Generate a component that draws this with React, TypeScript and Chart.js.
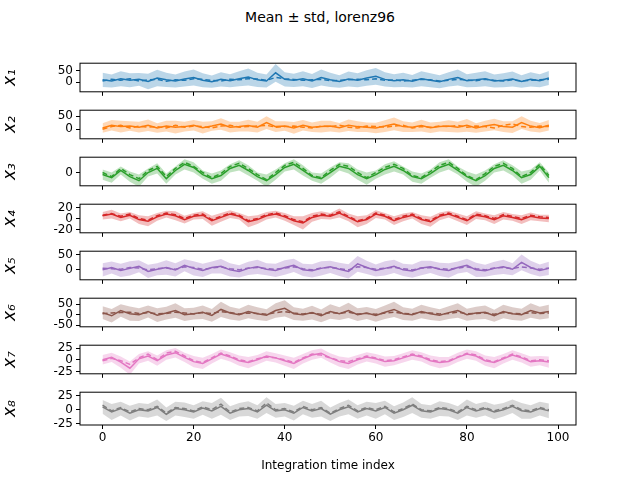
import { Chart, registerables } from "chart.js";
import { useEffect, useRef } from "react";

Chart.register(...registerables);

// 50 samples per series, at every second time index
const timeIndex = Array.from({ length: 50 }, (_, i) => i * 2);
const xTicks = [0, 20, 40, 60, 80, 100];

const mean1 = [10,5,15,8,12,3,18,10,5,14,20,8,2,12,6,15,22,10,5,40,12,8,15,5,20,10,3,14,8,18,25,12,6,10,4,15,8,2,12,20,6,10,15,5,8,14,3,12,6,18];
const truth1 = [5,12,8,15,5,10,12,4,10,8,15,12,8,5,12,10,15,14,8,20,15,12,8,10,12,6,8,10,12,10,15,8,10,5,8,12,10,5,8,12,10,6,12,8,5,10,6,8,10,12];
const std1 = [30,28,32,30,27,33,35,30,28,32,34,30,26,30,28,32,36,30,28,38,30,28,32,30,34,30,27,32,30,33,36,30,28,30,27,32,30,28,30,34,28,30,32,28,30,32,27,30,28,30];

const mean2 = [5,15,10,12,8,15,5,12,8,10,15,6,12,20,8,10,14,8,25,10,12,5,15,8,10,12,6,15,10,8,5,12,20,10,8,14,6,10,12,8,15,5,12,18,10,8,25,12,6,15];
const truth2 = [0,10,15,5,12,8,10,5,15,8,12,10,5,12,15,8,10,12,15,8,10,12,8,5,12,10,15,8,5,12,10,8,12,15,5,10,8,12,10,15,8,12,10,5,15,20,10,8,12,10];
const std2 = [18,20,22,18,20,22,18,20,24,18,20,22,18,22,20,18,22,20,24,20,18,22,20,18,22,20,18,22,20,18,20,22,24,20,18,22,20,18,22,20,24,18,20,22,20,22,24,20,18,20];

const mean3 = [-2,-5,2,-4,-8,0,4,-6,2,8,5,-2,-6,-3,4,7,2,-4,-8,-2,5,8,2,-4,-6,0,6,4,-2,-6,-2,3,6,2,-4,-6,-1,5,8,2,-4,-8,-3,4,7,2,-5,-2,6,-5];
const truth3 = [0,-4,4,-2,-6,2,6,-4,4,10,6,0,-5,-1,6,9,4,-2,-7,0,7,10,4,-3,-5,2,8,6,0,-5,0,5,8,4,-3,-5,1,7,10,4,-3,-7,-1,6,9,4,-4,0,8,-3];
const std3 = [5,5,4,5,6,4,5,5,4,5,5,4,5,5,4,5,5,4,6,5,4,5,5,4,5,5,4,5,5,6,4,5,5,4,5,5,4,5,5,4,5,6,5,4,5,5,6,5,4,5];

const mean4 = [5,8,2,6,-2,-5,3,8,5,-2,4,6,-4,2,8,4,-6,-2,5,8,3,-4,-8,2,6,4,10,2,-6,-2,8,4,-4,2,6,-2,-6,4,8,2,-4,6,3,-2,5,2,-2,4,1,0];
const truth4 = [6,9,4,8,0,-3,5,10,7,0,6,8,-2,4,10,6,-4,0,7,10,5,-2,-6,4,8,6,12,4,-4,0,10,6,-2,4,8,0,-4,6,10,4,-2,8,5,0,7,4,0,6,3,2];
const std4 = [7,8,7,6,8,9,7,6,8,7,6,7,9,8,7,6,10,8,7,6,7,8,12,8,7,6,8,7,10,8,7,6,8,7,6,8,9,7,6,7,8,7,6,8,7,6,8,7,6,7];

const mean5 = [0,8,-2,5,12,-5,2,8,0,15,5,-2,8,12,0,-5,5,10,2,-2,8,15,0,-3,5,10,2,-5,20,8,-2,5,12,0,-4,6,10,2,-2,8,15,0,-3,5,10,2,25,8,-2,5];
const truth5 = [5,4,2,8,6,0,4,6,2,10,8,2,6,10,4,0,6,8,4,2,6,10,4,0,6,8,4,0,10,8,2,6,8,4,0,6,8,4,2,6,10,4,0,6,8,4,10,6,2,6];
const std5 = [22,20,22,24,20,22,20,24,22,20,24,22,20,24,22,20,22,24,20,22,24,22,20,22,24,20,22,24,26,22,20,24,22,20,22,24,20,22,24,20,22,24,20,22,24,20,26,22,20,22];

const mean6 = [10,-5,20,5,0,15,-2,8,20,0,5,12,-3,25,8,0,15,5,-2,20,30,5,0,10,-5,15,5,20,0,8,-3,12,25,5,0,15,5,-2,10,20,0,8,12,-5,15,5,0,20,8,15];
const truth6 = [5,8,10,12,6,10,4,6,12,8,4,10,6,15,10,4,8,6,2,10,15,8,4,8,2,10,6,12,4,6,2,8,12,6,4,10,8,4,6,12,4,6,8,2,10,6,4,10,6,8];
const std6 = [30,32,30,34,30,28,32,30,34,30,28,32,30,36,30,28,32,30,28,34,38,30,28,32,30,34,30,36,30,28,30,32,36,30,28,32,30,28,30,34,28,30,32,28,32,30,28,34,30,32];

const mean7 = [0,5,-5,-18,2,8,-2,10,15,5,-4,-8,2,12,6,-2,-6,0,8,4,-2,-8,2,10,14,4,-4,-8,0,6,2,-4,-2,4,10,6,-2,-6,-4,5,12,8,-2,-6,2,10,4,-4,-2,-5];
const truth7 = [-2,3,-2,-10,4,12,0,14,18,8,-2,-6,4,14,8,0,-4,2,6,4,0,-6,4,12,10,4,-2,-4,2,8,4,-2,0,6,12,8,0,-4,-2,6,14,10,0,-4,4,12,6,-2,0,-2];
const std7 = [10,10,12,14,10,10,11,10,10,10,12,12,10,10,10,11,12,10,10,10,11,12,10,10,10,10,11,12,10,10,10,11,10,10,10,10,11,12,10,10,10,10,11,12,10,10,10,11,10,12];

const mean8 = [5,-4,2,-6,0,-2,4,-8,2,0,-4,3,-2,6,-6,0,2,-4,8,-2,0,-6,4,-2,2,-8,0,5,-4,2,-2,4,-6,0,8,-2,-4,2,0,-6,4,-2,2,-4,0,6,-2,-4,2,-2];
const truth8 = [8,-2,4,-4,2,0,6,-6,4,2,-2,5,0,10,-4,2,4,-2,12,0,2,-4,6,0,4,-6,2,8,-2,4,0,6,-4,2,10,0,-2,4,2,-4,6,0,4,-2,2,8,0,-2,4,0];
const std8 = [12,14,12,13,12,12,14,12,12,13,12,12,14,15,12,12,13,12,14,12,12,13,12,12,14,12,12,13,12,12,14,12,12,13,14,12,12,13,12,12,14,12,12,13,12,12,14,12,12,13];

const labels = ["x₁", "x₂", "x₃", "x₄", "x₅", "x₆", "x₇", "x₈"];
const colors = ["#1f77b4", "#ff7f0e", "#2ca02c", "#d62728", "#9467bd", "#8c564b", "#e377c2", "#7f7f7f"];
const fills = ["rgba(31,119,180,0.3)", "rgba(255,127,14,0.3)", "rgba(44,160,44,0.3)", "rgba(214,39,40,0.3)", "rgba(148,103,189,0.3)", "rgba(140,86,75,0.3)", "rgba(227,119,194,0.3)", "rgba(127,127,127,0.3)"];
const yTicks = [[0, 50], [0, 50], [0], [-20, 0, 20], [0, 50], [-50, 0, 50], [-25, 0, 25], [-25, 0, 25]];
const yRanges = [[-41, 81], [-36, 72], [-13, 15], [-26, 26], [-33, 62], [-57, 78], [-30, 31], [-27, 31]];
const means = [mean1, mean2, mean3, mean4, mean5, mean6, mean7, mean8];
const truths = [truth1, truth2, truth3, truth4, truth5, truth6, truth7, truth8];
const stds = [std1, std2, std3, std4, std5, std6, std7, std8];

const panelTops = [57, 104, 151, 198, 245, 292, 339, 386];
const panelHeight = 39;
const FONT = "'DejaVu Sans', sans-serif";

const frame = {
    id: "frame",
    afterDraw(chart: any) {
        const { ctx, chartArea: a } = chart;
        ctx.save();
        ctx.strokeStyle = "#000";
        ctx.lineWidth = 1;
        ctx.strokeRect(a.left, a.top, a.right - a.left, a.bottom - a.top);
        ctx.restore();
    },
};

const Panel = ({ i }: { i: number }) => {
    const canvasRef = useRef<HTMLCanvasElement | null>(null);
    const last = i === 7;
    const xHeight = last ? 48 : 6;

    useEffect(() => {
        if (!canvasRef.current) return;
        const m = means[i];
        const s = stds[i];
        const pts = (arr: number[]) => arr.map((v, k) => ({ x: timeIndex[k], y: v }));
        const chart = new Chart(canvasRef.current, {
            type: "line",
            data: {
                datasets: [
                    { data: pts(m.map((v, k) => v + s[k])), borderWidth: 0, pointRadius: 0, backgroundColor: fills[i], fill: "+1" },
                    { data: pts(m.map((v, k) => v - s[k])), borderWidth: 0, pointRadius: 0, fill: false },
                    { data: pts(m), borderColor: colors[i], borderWidth: 1.5, pointRadius: 0, fill: false },
                    { data: pts(truths[i]), borderColor: colors[i], borderWidth: 1.5, borderDash: [5, 3], pointRadius: 0, fill: false },
                ],
            },
            options: {
                animation: false,
                responsive: false,
                layout: { autoPadding: false, padding: { top: 4, right: 64, left: 0, bottom: 0 } },
                plugins: { legend: { display: false }, tooltip: { enabled: false } },
                scales: {
                    x: {
                        type: "linear",
                        min: -4.95,
                        max: 103.95,
                        afterBuildTicks: (sc: any) => { sc.ticks = xTicks.map(v => ({ value: v })); },
                        afterFit: (sc: any) => { sc.height = xHeight; },
                        grid: { drawOnChartArea: false, drawTicks: true, tickLength: 4, color: "#000" },
                        border: { display: false },
                        ticks: { display: last, autoSkip: false, color: "#000", font: { family: FONT, size: 12 }, padding: 2, maxRotation: 0 },
                        title: { display: last, text: "Integration time index", color: "#000", font: { family: FONT, size: 12 }, padding: { top: 2, bottom: 0 } },
                    },
                    y: {
                        min: yRanges[i][0],
                        max: yRanges[i][1],
                        afterBuildTicks: (sc: any) => { sc.ticks = yTicks[i].map(v => ({ value: v })); },
                        afterFit: (sc: any) => { sc.width = 80; },
                        grid: { drawOnChartArea: false, drawTicks: true, tickLength: 4, color: "#000" },
                        border: { display: false },
                        ticks: { autoSkip: false, color: "#000", font: { family: FONT, size: 12 }, padding: 3 },
                        title: { display: true, text: labels[i], color: "#000", font: { family: FONT, size: 17, style: "italic" }, padding: 0 },
                    },
                },
            },
            plugins: [frame],
        });
        return () => chart.destroy();
    }, [i]);

    return (
        <canvas
            ref={canvasRef}
            width={640}
            height={panelHeight + 4 + xHeight}
            style={{ position: "absolute", left: 0, top: panelTops[i] - 4 }}
        />
    );
};

export default function App() {
    useEffect(() => { document.body.style.margin = "0"; }, []);
    return (
        <div style={{ position: "relative", width: 640, height: 480, background: "#fff" }}>
            <div style={{ position: "absolute", top: 9, left: 0, width: 640, textAlign: "center", fontFamily: FONT, fontSize: 14, color: "#000" }}>
                Mean ± std, lorenz96
            </div>
            {labels.map((_, i) => <Panel key={i} i={i} />)}
        </div>
    );
}
